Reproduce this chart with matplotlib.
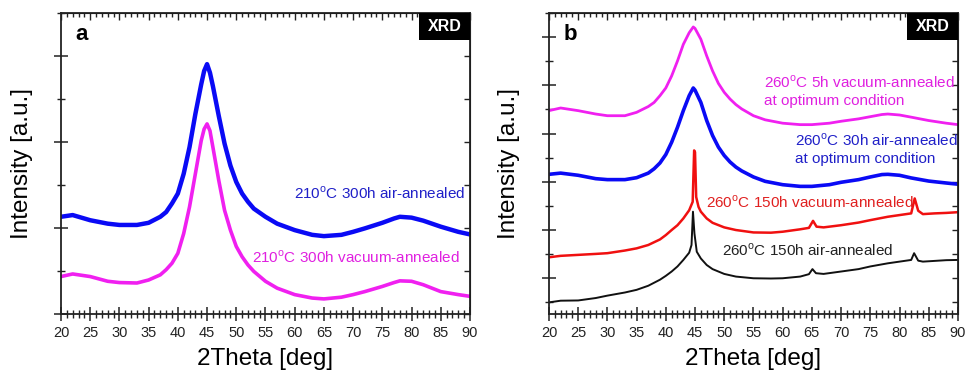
import matplotlib
matplotlib.use('Agg')
import matplotlib.pyplot as plt
from matplotlib.patches import Rectangle
from matplotlib.ticker import MultipleLocator, NullFormatter

plt.rcParams['font.family'] = 'Liberation Sans'
plt.rcParams['mathtext.fontset'] = 'custom'
plt.rcParams['mathtext.rm'] = 'Liberation Sans'

# (a) 210 C, 300 h
theta_a = [20, 22, 25, 28, 30, 33, 35, 37, 38, 39, 40, 41, 42, 43, 44, 44.5, 45, 45.5, 46, 47,
           48, 49, 50, 51, 52, 53, 55, 57, 60, 63, 65, 68, 70, 72, 75, 77, 78, 80, 82, 85, 88, 90]
a_air = [2.26, 2.30, 2.18, 2.10, 2.07, 2.07, 2.12, 2.26, 2.37, 2.57, 2.80, 3.26, 3.88, 4.65, 5.34,
         5.65, 5.81, 5.61, 5.30, 4.61, 3.96, 3.45, 3.07, 2.80, 2.61, 2.45, 2.26, 2.10, 1.95, 1.84,
         1.81, 1.84, 1.91, 1.99, 2.12, 2.22, 2.26, 2.24, 2.17, 2.03, 1.91, 1.85]
a_vac = [0.87, 0.93, 0.87, 0.76, 0.73, 0.72, 0.79, 0.91, 1.03, 1.18, 1.41, 1.87, 2.49, 3.26, 4.03,
         4.30, 4.42, 4.26, 3.88, 3.11, 2.41, 1.95, 1.57, 1.33, 1.14, 0.99, 0.76, 0.60, 0.45, 0.37,
         0.35, 0.39, 0.45, 0.52, 0.64, 0.73, 0.77, 0.76, 0.68, 0.52, 0.45, 0.41]

# (b) 260 C, broad peaks
theta_b = [20, 22, 25, 28, 30, 33, 35, 37, 38, 39, 40, 41, 42, 43, 44, 44.7, 45, 46, 47, 48, 49,
           50, 51, 52, 53, 55, 57, 60, 63, 65, 68, 70, 73, 75, 77, 78, 80, 82, 85, 88, 90]
b_vac5 = [7.95, 8.06, 7.95, 7.81, 7.74, 7.74, 7.88, 8.12, 8.29, 8.57, 8.89, 9.39, 10.01, 10.70,
          11.18, 11.42, 11.36, 10.91, 10.22, 9.60, 9.08, 8.71, 8.43, 8.20, 8.02, 7.74, 7.57, 7.43,
          7.37, 7.37, 7.43, 7.51, 7.61, 7.70, 7.79, 7.81, 7.77, 7.68, 7.54, 7.43, 7.37]
b_air30 = [5.31, 5.36, 5.27, 5.13, 5.09, 5.09, 5.17, 5.36, 5.54, 5.78, 6.13, 6.64, 7.26, 7.95,
           8.57, 8.89, 8.80, 8.29, 7.54, 6.92, 6.44, 6.09, 5.82, 5.61, 5.45, 5.20, 5.02, 4.88,
           4.81, 4.81, 4.88, 4.98, 5.09, 5.20, 5.30, 5.31, 5.27, 5.16, 5.03, 4.95, 4.90]

# (b) 260 C, 150 h with sharp reflections
theta_vac150 = [20, 22, 25, 28, 30, 33, 35, 37, 39, 40, 41, 42, 43, 44, 44.6, 44.85, 45.0, 45.2,
                45.6, 46, 47, 48, 50, 52, 55, 58, 60, 63, 64.5, 65.2, 65.8, 67, 70, 73, 75, 78,
                80, 82, 82.6, 83.2, 84, 86, 88, 90]
b_vac150 = [1.87, 1.93, 1.97, 2.01, 2.04, 2.15, 2.24, 2.38, 2.61, 2.79, 3.00, 3.20, 3.48, 3.82,
            4.17, 6.30, 6.23, 4.37, 3.96, 3.76, 3.48, 3.30, 3.11, 3.00, 2.90, 2.89, 2.93, 3.03,
            3.09, 3.38, 3.14, 3.11, 3.20, 3.31, 3.41, 3.55, 3.62, 3.69, 4.31, 3.80, 3.66, 3.69,
            3.71, 3.74]
theta_air150 = [20, 22, 25, 28, 30, 33, 35, 37, 39, 40, 41, 42, 43, 44, 44.4, 44.65, 44.9, 45.3,
                46, 47, 48, 50, 52, 55, 58, 60, 63, 64.5, 65.1, 65.7, 67, 70, 73, 75, 78, 80, 82,
                82.5, 83.2, 84, 86, 88, 90]
b_air150 = [0.00, 0.07, 0.08, 0.18, 0.28, 0.41, 0.52, 0.69, 0.94, 1.10, 1.28, 1.49, 1.76, 2.06,
            2.38, 3.76, 2.86, 2.10, 1.82, 1.55, 1.38, 1.18, 1.07, 1.00, 0.99, 1.00, 1.07, 1.17,
            1.38, 1.21, 1.18, 1.28, 1.38, 1.49, 1.62, 1.69, 1.76, 2.04, 1.73, 1.69, 1.72, 1.75,
            1.76]


def style_axes(ax, ylim, letter):
    ax.set_xlim(20, 90)
    ax.set_ylim(*ylim)
    ax.xaxis.set_major_locator(MultipleLocator(5))
    ax.xaxis.set_minor_locator(MultipleLocator(1))
    ax.yaxis.set_minor_locator(MultipleLocator(1))
    ax.yaxis.set_major_formatter(NullFormatter())
    ax.tick_params(axis='both', which='major', direction='inout', length=10, width=1.1,
                   labelsize=10.5, colors='#222222')
    ax.tick_params(axis='both', which='minor', direction='inout', length=6, width=1.0,
                   colors='#222222')
    for s in ax.spines.values():
        s.set_linewidth(1.3)
        s.set_color('#222222')

    # inward ticks on top and right
    top = ax.secondary_xaxis('top')
    top.xaxis.set_major_locator(MultipleLocator(5))
    top.xaxis.set_minor_locator(MultipleLocator(1))
    top.xaxis.set_major_formatter(NullFormatter())
    top.tick_params(which='major', direction='in', length=5, width=1.0, colors='#222222')
    top.tick_params(which='minor', direction='in', length=3, width=1.0, colors='#222222')
    right = ax.secondary_yaxis('right')
    right.yaxis.set_major_locator(MultipleLocator(1))
    right.yaxis.set_major_formatter(NullFormatter())
    right.tick_params(which='major', direction='in', length=4, width=1.0, colors='#222222')

    ax.set_xlabel('2Theta [deg]', fontsize=17.5, labelpad=6)
    ax.set_ylabel('Intensity [a.u.]', fontsize=17.5, labelpad=12)
    ax.text(0.035, 0.93, letter, transform=ax.transAxes, fontsize=16, fontweight='bold',
            va='center', ha='left')
    # black "XRD" tag in the top-right corner
    ax.add_patch(Rectangle((0.876, 0.91), 0.124, 0.09, transform=ax.transAxes,
                           facecolor='black', edgecolor='none', zorder=5, clip_on=False))
    ax.text(0.938, 0.955, 'XRD', transform=ax.transAxes, fontsize=11.5, fontweight='bold',
            color='white', va='center', ha='center', zorder=6)


fig = plt.figure(figsize=(9.68, 3.76), dpi=100)
ax1 = fig.add_axes([0.063, 0.165, 0.4225, 0.8005])
ax2 = fig.add_axes([0.5671, 0.165, 0.4225, 0.8005])

deg = r'$^{\mathrm{o}}$'

# panel a
ax1.plot(theta_a, a_air, color='#0a0af5', lw=3.2)
ax1.plot(theta_a, a_vac, color='#f020f0', lw=2.6)
style_axes(ax1, (0, 7), 'a')
ax1.yaxis.set_major_locator(MultipleLocator(2))
ax1.text(59.9, 2.81, '210' + deg + 'C 300h air-annealed', color='#2020c8', fontsize=11,
         va='center')
ax1.text(52.7, 1.33, '210' + deg + 'C 300h vacuum-annealed', color='#e020e0', fontsize=11,
         va='center')

# panel b
ax2.plot(theta_b, b_vac5, color='#f020f0', lw=2.0)
ax2.plot(theta_b, b_air30, color='#0a0af5', lw=2.6)
ax2.plot(theta_vac150, b_vac150, color='#f01010', lw=1.8)
ax2.plot(theta_air150, b_air150, color='#111111', lw=1.4)
style_axes(ax2, (-0.48, 12), 'b')
ax2.yaxis.set_major_locator(MultipleLocator(2, offset=1))

labels_b = [
    (56.8, 9.11, '260' + deg + 'C 5h vacuum-annealed', '#e020e0'),
    (56.8, 8.36, 'at optimum condition', '#e020e0'),
    (62.1, 6.71, '260' + deg + 'C 30h air-annealed', '#2020c8'),
    (62.1, 5.93, 'at optimum condition', '#2020c8'),
    (46.9, 4.15, '260' + deg + 'C 150h vacuum-annealed', '#e02020'),
    (49.6, 2.17, '260' + deg + 'C 150h air-annealed', '#222222'),
]
for x, y, txt, c in labels_b:
    ax2.text(x, y, txt, color=c, fontsize=11, va='center')

fig.savefig('out.png', dpi=100)
